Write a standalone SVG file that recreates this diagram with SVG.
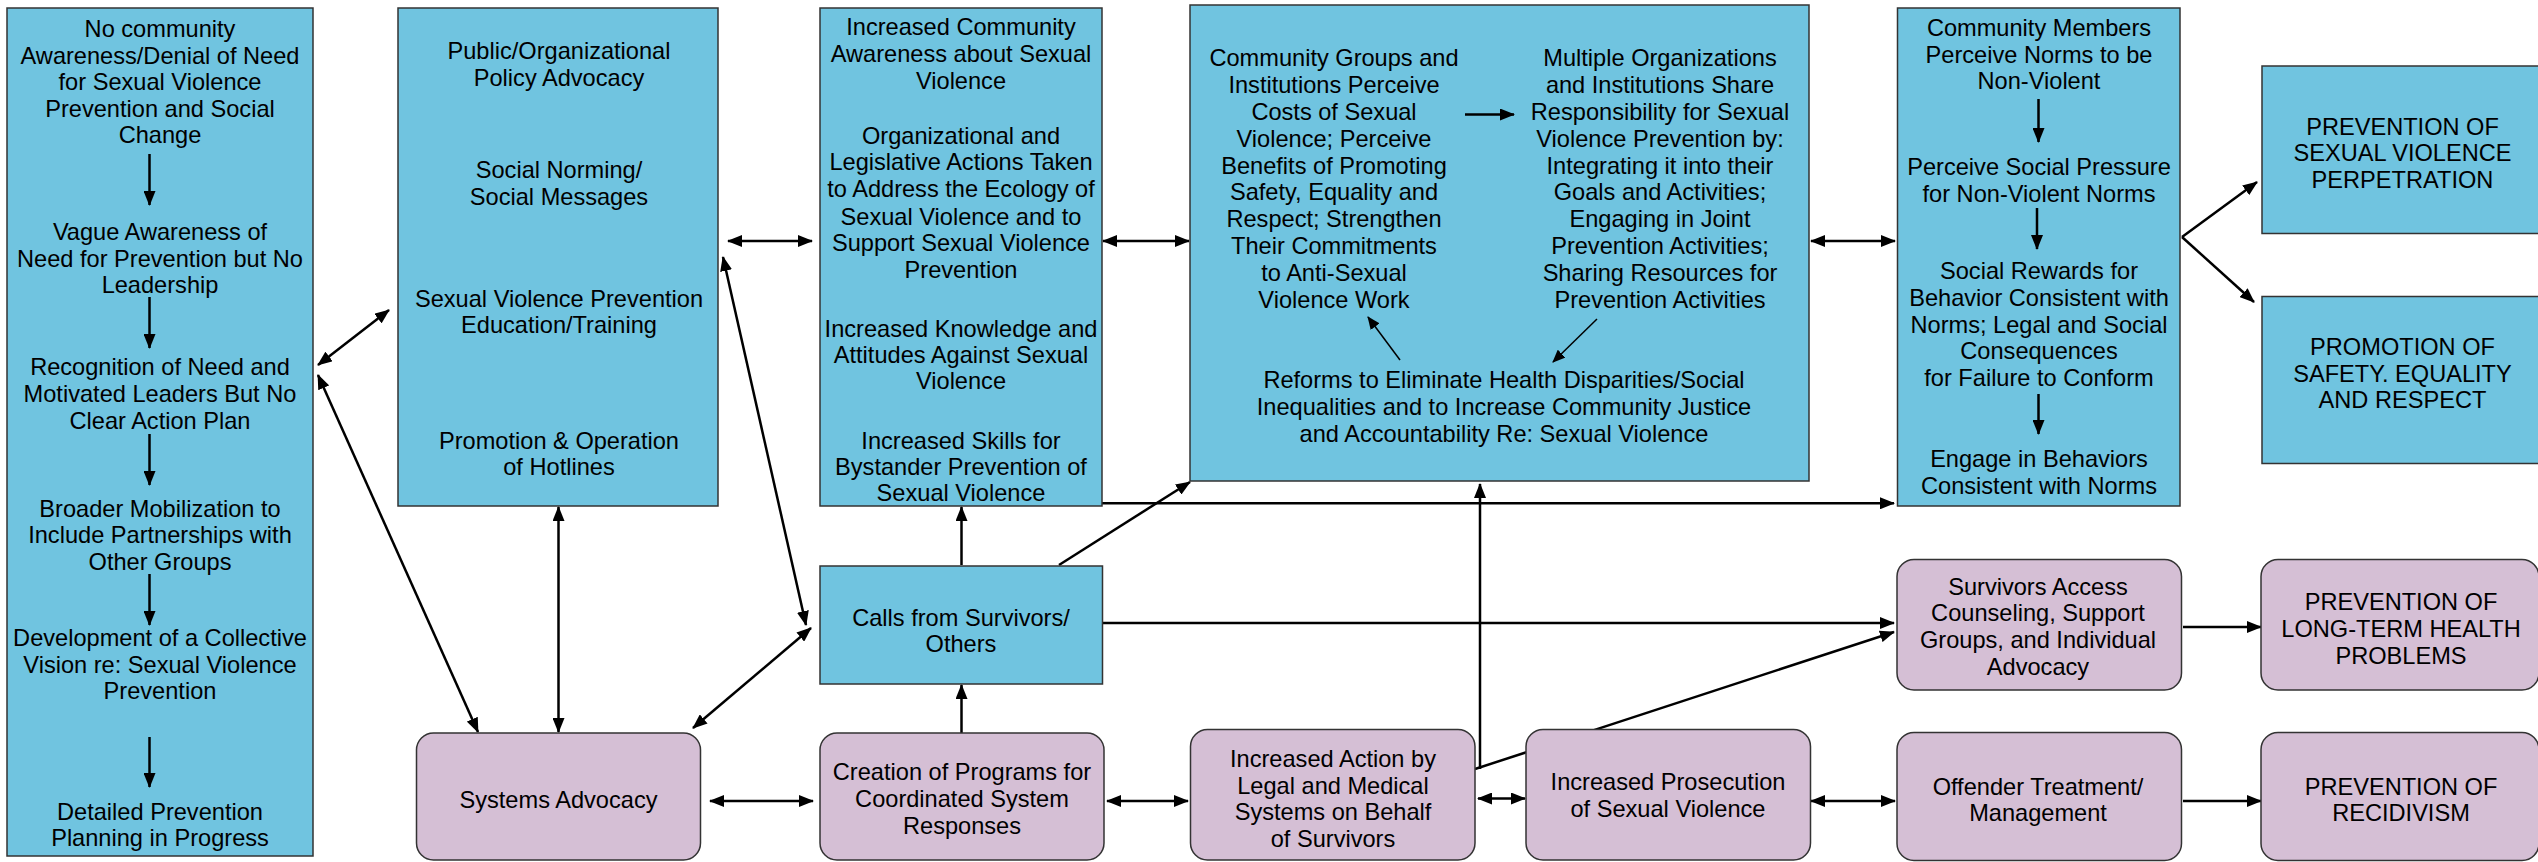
<svg xmlns="http://www.w3.org/2000/svg" width="2538" height="862" viewBox="0 0 2538 862">
<style>
.blue{fill:#70C4E0;stroke:#333;stroke-width:1.5}
.purple{fill:#D5BFD5;stroke:#333;stroke-width:1.5}
text{font-family:"Liberation Sans",Arial,sans-serif;font-size:23.6px;fill:#000;text-anchor:middle}
.ln{stroke:#000;stroke-width:2.5;fill:none}
.thin{stroke:#000;stroke-width:1.5;fill:none}
</style>
<defs>
<marker id="ah" markerWidth="15" markerHeight="12" refX="14" refY="6" orient="auto-start-reverse" markerUnits="userSpaceOnUse"><path d="M0,0 L15,6 L0,12 z" fill="#000"/></marker>
<marker id="ahs" markerWidth="13" markerHeight="11" refX="12" refY="5.5" orient="auto-start-reverse" markerUnits="userSpaceOnUse"><path d="M0,0 L13,5.5 L0,11 z" fill="#000"/></marker>
</defs>
<rect width="2538" height="862" fill="#fff"/>

<g id="connectors">
<line class="ln" x1="318" y1="365" x2="389" y2="310" marker-start="url(#ah)" marker-end="url(#ah)"/>
<line class="ln" x1="318" y1="375" x2="478" y2="732" marker-start="url(#ah)" marker-end="url(#ah)"/>
<line class="ln" x1="728" y1="241" x2="812" y2="241" marker-start="url(#ah)" marker-end="url(#ah)"/>
<line class="ln" x1="723" y1="257" x2="806" y2="625" marker-start="url(#ah)" marker-end="url(#ah)"/>
<line class="ln" x1="558.5" y1="507" x2="558.5" y2="732" marker-start="url(#ah)" marker-end="url(#ah)"/>
<line class="ln" x1="693" y1="728" x2="811" y2="628" marker-start="url(#ah)" marker-end="url(#ah)"/>
<line class="ln" x1="710" y1="801" x2="813" y2="801" marker-start="url(#ah)" marker-end="url(#ah)"/>
<line class="ln" x1="961.5" y1="733" x2="961.5" y2="685" marker-end="url(#ah)"/>
<line class="ln" x1="961.5" y1="565" x2="961.5" y2="507" marker-end="url(#ah)"/>
<line class="ln" x1="1059" y1="565" x2="1190" y2="482" marker-end="url(#ah)"/>
<line class="ln" x1="1103" y1="241" x2="1189" y2="241" marker-start="url(#ah)" marker-end="url(#ah)"/>
<line class="ln" x1="1102" y1="503.3" x2="1894" y2="503.3" marker-end="url(#ah)"/>
<line class="ln" x1="1103" y1="623" x2="1894" y2="623" marker-end="url(#ah)"/>
<line class="ln" x1="1107" y1="801" x2="1188" y2="801" marker-start="url(#ah)" marker-end="url(#ah)"/>
<line class="ln" x1="1480" y1="769" x2="1480" y2="484" marker-end="url(#ah)"/>
<line class="ln" x1="1475" y1="769" x2="1894" y2="632" marker-end="url(#ah)"/>
<line class="ln" x1="1478" y1="798.5" x2="1525" y2="798.5" marker-start="url(#ah)" marker-end="url(#ah)"/>
<line class="ln" x1="1811" y1="801" x2="1895" y2="801" marker-start="url(#ah)" marker-end="url(#ah)"/>
<line class="ln" x1="2183" y1="801" x2="2261" y2="801" marker-end="url(#ah)"/>
<line class="ln" x1="2183" y1="627" x2="2261" y2="627" marker-end="url(#ah)"/>
<line class="ln" x1="1811" y1="241" x2="1895" y2="241" marker-start="url(#ah)" marker-end="url(#ah)"/>
<line class="ln" x1="2182" y1="237" x2="2257" y2="182" marker-end="url(#ah)"/>
<line class="ln" x1="2182" y1="237" x2="2254" y2="302" marker-end="url(#ah)"/>
</g>

<g id="stages">
<rect class="blue" x="7" y="8" width="306" height="848"/>
<text x="160" y="37">No community</text>
<text x="160" y="63.5">Awareness/Denial of Need</text>
<text x="160" y="90">for Sexual Violence</text>
<text x="160" y="117">Prevention and Social</text>
<text x="160" y="143">Change</text>
<text x="160" y="240">Vague Awareness of</text>
<text x="160" y="267">Need for Prevention but No</text>
<text x="160" y="293">Leadership</text>
<text x="160" y="375">Recognition of Need and</text>
<text x="160" y="402">Motivated Leaders But No</text>
<text x="160" y="429">Clear Action Plan</text>
<text x="160" y="517">Broader Mobilization to</text>
<text x="160" y="543">Include Partnerships with</text>
<text x="160" y="569.5">Other Groups</text>
<text x="160" y="646">Development of a Collective</text>
<text x="160" y="672.5">Vision re: Sexual Violence</text>
<text x="160" y="698.5">Prevention</text>
<text x="160" y="819.5">Detailed Prevention</text>
<text x="160" y="845.5">Planning in Progress</text>
<line class="ln" x1="149.5" y1="154" x2="149.5" y2="205" marker-end="url(#ah)"/>
<line class="ln" x1="149.5" y1="297" x2="149.5" y2="348" marker-end="url(#ah)"/>
<line class="ln" x1="149.5" y1="434" x2="149.5" y2="485" marker-end="url(#ah)"/>
<line class="ln" x1="149.5" y1="574" x2="149.5" y2="625" marker-end="url(#ah)"/>
<line class="ln" x1="149.5" y1="737" x2="149.5" y2="787" marker-end="url(#ah)"/>
</g>

<g id="strategies">
<rect class="blue" x="398" y="8" width="320" height="498"/>
<text x="559" y="58.5">Public/Organizational</text>
<text x="559" y="86">Policy Advocacy</text>
<text x="559" y="177.5">Social Norming/</text>
<text x="559" y="204.5">Social Messages</text>
<text x="559" y="307">Sexual Violence Prevention</text>
<text x="559" y="333">Education/Training</text>
<text x="559" y="448.5">Promotion &amp; Operation</text>
<text x="559" y="475">of Hotlines</text>
</g>

<g id="outcomes1">
<rect class="blue" x="820" y="8" width="282" height="498"/>
<text x="961" y="35">Increased Community</text>
<text x="961" y="62">Awareness about Sexual</text>
<text x="961" y="88.5">Violence</text>
<text x="961" y="143.5">Organizational and</text>
<text x="961" y="170">Legislative Actions Taken</text>
<text x="961" y="197">to Address the Ecology of</text>
<text x="961" y="224.5">Sexual Violence and to</text>
<text x="961" y="251">Support Sexual Violence</text>
<text x="961" y="278">Prevention</text>
<text x="961" y="337">Increased Knowledge and</text>
<text x="961" y="362.5">Attitudes Against Sexual</text>
<text x="961" y="388.5">Violence</text>
<text x="961" y="448.5">Increased Skills for</text>
<text x="961" y="475">Bystander Prevention of</text>
<text x="961" y="501">Sexual Violence</text>
</g>

<g id="community">
<rect class="blue" x="1190" y="5" width="619" height="476"/>
<text x="1334" y="66">Community Groups and</text>
<text x="1334" y="92.5">Institutions Perceive</text>
<text x="1334" y="119.5">Costs of Sexual</text>
<text x="1334" y="146.5">Violence; Perceive</text>
<text x="1334" y="173.5">Benefits of Promoting</text>
<text x="1334" y="200">Safety, Equality and</text>
<text x="1334" y="227">Respect; Strengthen</text>
<text x="1334" y="254">Their Commitments</text>
<text x="1334" y="281">to Anti-Sexual</text>
<text x="1334" y="307.5">Violence Work</text>
<text x="1660" y="66">Multiple Organizations</text>
<text x="1660" y="92.5">and Institutions Share</text>
<text x="1660" y="119.5">Responsibility for Sexual</text>
<text x="1660" y="146.5">Violence Prevention by:</text>
<text x="1660" y="173.5">Integrating it into their</text>
<text x="1660" y="200">Goals and Activities;</text>
<text x="1660" y="227">Engaging in Joint</text>
<text x="1660" y="254">Prevention Activities;</text>
<text x="1660" y="281">Sharing Resources for</text>
<text x="1660" y="307.5">Prevention Activities</text>
<text x="1504" y="388">Reforms to Eliminate Health Disparities/Social</text>
<text x="1504" y="415">Inequalities and to Increase Community Justice</text>
<text x="1504" y="442">and Accountability Re: Sexual Violence</text>
<line class="ln" x1="1465" y1="114.5" x2="1514" y2="114.5" marker-end="url(#ah)"/>
<line class="thin" x1="1400" y1="360" x2="1368" y2="317" marker-end="url(#ahs)"/>
<line class="thin" x1="1597" y1="319" x2="1553" y2="362" marker-end="url(#ahs)"/>
</g>

<g id="norms">
<rect class="blue" x="1897.5" y="8" width="282.5" height="498"/>
<text x="2039" y="36">Community Members</text>
<text x="2039" y="62.5">Perceive Norms to be</text>
<text x="2039" y="89">Non-Violent</text>
<text x="2039" y="175">Perceive Social Pressure</text>
<text x="2039" y="202">for Non-Violent Norms</text>
<text x="2039" y="279">Social Rewards for</text>
<text x="2039" y="306">Behavior Consistent with</text>
<text x="2039" y="332.5">Norms; Legal and Social</text>
<text x="2039" y="359">Consequences</text>
<text x="2039" y="386">for Failure to Conform</text>
<text x="2039" y="467">Engage in Behaviors</text>
<text x="2039" y="493.5">Consistent with Norms</text>
<line class="ln" x1="2038.5" y1="99" x2="2038.5" y2="142" marker-end="url(#ah)"/>
<line class="ln" x1="2037" y1="208" x2="2037" y2="249" marker-end="url(#ah)"/>
<line class="ln" x1="2038.5" y1="394" x2="2038.5" y2="434" marker-end="url(#ah)"/>
</g>

<g id="perpetration">
<rect class="blue" x="2262" y="66" width="281" height="167.5"/>
<text x="2402.5" y="134.5">PREVENTION OF</text>
<text x="2402.5" y="161">SEXUAL VIOLENCE</text>
<text x="2402.5" y="188">PERPETRATION</text>
</g>

<g id="safety">
<rect class="blue" x="2262" y="296.5" width="281" height="167"/>
<text x="2402.5" y="355">PROMOTION OF</text>
<text x="2402.5" y="382">SAFETY. EQUALITY</text>
<text x="2402.5" y="408">AND RESPECT</text>
</g>

<g id="calls">
<rect class="blue" x="820" y="566" width="282.5" height="118"/>
<text x="961" y="626">Calls from Survivors/</text>
<text x="961" y="652">Others</text>
</g>

<g id="systems">
<rect class="purple" x="416.5" y="733" width="284" height="127" rx="17"/>
<text x="558.5" y="807.5">Systems Advocacy</text>
</g>

<g id="programs">
<rect class="purple" x="820" y="733" width="284" height="127" rx="17"/>
<text x="962" y="780">Creation of Programs for</text>
<text x="962" y="807">Coordinated System</text>
<text x="962" y="833.5">Responses</text>
</g>

<g id="action">
<rect class="purple" x="1190.5" y="729.5" width="284.5" height="130.5" rx="17"/>
<text x="1333" y="767">Increased Action by</text>
<text x="1333" y="793.5">Legal and Medical</text>
<text x="1333" y="820">Systems on Behalf</text>
<text x="1333" y="847">of Survivors</text>
</g>

<g id="prosecution">
<rect class="purple" x="1526" y="729.5" width="284.5" height="130.5" rx="17"/>
<text x="1668" y="790">Increased Prosecution</text>
<text x="1668" y="817">of Sexual Violence</text>
</g>

<g id="survivors">
<rect class="purple" x="1897" y="559.5" width="284.5" height="130.5" rx="17"/>
<text x="2038" y="594.5">Survivors Access</text>
<text x="2038" y="621">Counseling, Support</text>
<text x="2038" y="648">Groups, and Individual</text>
<text x="2038" y="674.5">Advocacy</text>
</g>

<g id="offender">
<rect class="purple" x="1897" y="732.5" width="284.5" height="128" rx="17"/>
<text x="2038" y="794.5">Offender Treatment/</text>
<text x="2038" y="821">Management</text>
</g>

<g id="health">
<rect class="purple" x="2261" y="559.5" width="278" height="130.5" rx="17"/>
<text x="2401" y="610">PREVENTION OF</text>
<text x="2401" y="637">LONG-TERM HEALTH</text>
<text x="2401" y="663.5">PROBLEMS</text>
</g>

<g id="recidivism">
<rect class="purple" x="2261" y="732.5" width="278" height="128" rx="17"/>
<text x="2401" y="794.5">PREVENTION OF</text>
<text x="2401" y="821">RECIDIVISM</text>
</g>
</svg>
